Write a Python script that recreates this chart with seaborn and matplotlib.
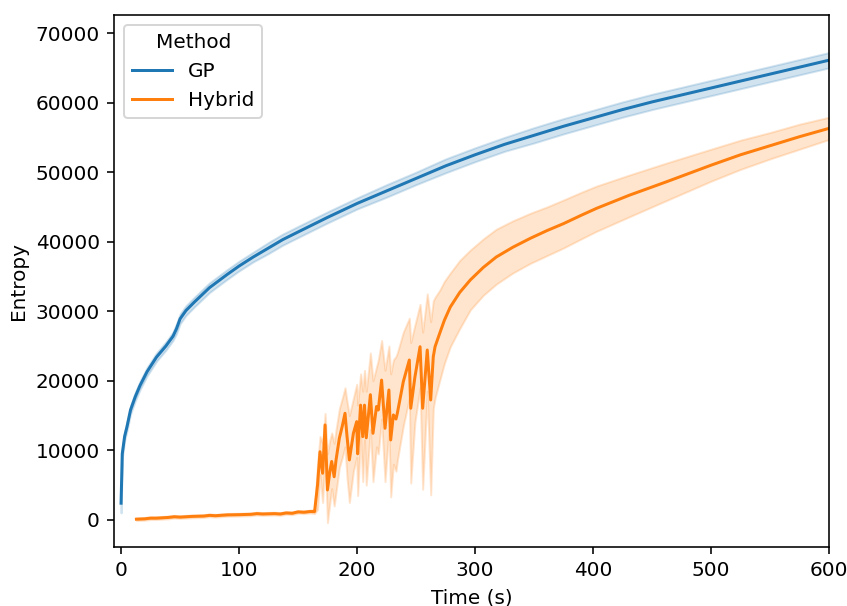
import numpy as np
import pandas as pd
import matplotlib
matplotlib.use("Agg")
import matplotlib.pyplot as plt
import seaborn as sns

# GP run: time (s), lower bound, central value, upper bound
gp_time = [0, 1, 3, 5, 8, 12, 16, 22, 30, 38, 44, 47, 50, 55, 62, 75, 90, 100,
           112, 125, 137, 150, 175, 200, 225, 250, 275, 300, 325, 350, 375, 400,
           425, 450, 475, 500, 525, 550, 575, 600]
gp_mid = [2400, 9500, 12000, 13400, 15800, 17700, 19300, 21300, 23400, 25000,
          26400, 27500, 28900, 30100, 31300, 33400, 35300, 36500, 37800, 39100,
          40300, 41400, 43500, 45500, 47300, 49100, 50900, 52500, 54000, 55300,
          56600, 57800, 59000, 60100, 61100, 62100, 63100, 64100, 65100, 66100]
gp_low = [1000, 8800, 11400, 12800, 15200, 17100, 18700, 20700, 22800, 24400,
          25800, 26800, 28200, 29400, 30600, 32700, 34600, 35800, 37100, 38300,
          39500, 40600, 42700, 44700, 46400, 48200, 49900, 51500, 53000, 54200,
          55500, 56700, 57900, 59000, 60000, 61000, 62000, 63000, 64000, 65000]
gp_high = [3000, 10200, 12600, 14000, 16400, 18300, 19900, 21900, 24000, 25600,
           27000, 28200, 29600, 30800, 32000, 34100, 36000, 37200, 38500, 39900,
           41100, 42200, 44300, 46300, 48200, 50000, 51900, 53500, 55000, 56400,
           57700, 58900, 60100, 61200, 62200, 63200, 64200, 65200, 66200, 67200]

# Hybrid run
hy_time = [13, 20, 25, 30, 40, 45, 50, 60, 70, 75, 80, 90, 100, 110, 115, 120,
           130, 135, 140, 145, 150, 155, 160, 164, 166.5, 168.6, 170.8, 172.9,
           174.9, 177, 178.5, 180.6, 182.2, 185, 187.5, 189.8, 191.5, 193.5,
           196.9, 199.7, 200.5, 203, 204.8, 206.3, 207.8, 211.3, 213.5, 216.5,
           218, 220.8, 223.7, 227, 228.5, 230.8, 233, 234.1, 239.2, 244.3, 245.5,
           249, 253.4, 255.6, 259.5, 262.4, 264.6, 266.1, 270, 274, 279, 287,
           296, 307, 318, 332, 347, 361, 375, 390, 403, 431, 462, 500, 525, 550,
           575, 600]
hy_mid = [100, 150, 250, 250, 350, 450, 400, 500, 550, 650, 600, 720, 750, 800,
          900, 850, 900, 850, 1000, 950, 1150, 1100, 1200, 1200, 5000, 9800,
          6700, 13650, 4300, 7000, 8400, 6200, 8620, 11740, 13500, 15330, 12000,
          8620, 12450, 14130, 9500, 16500, 11970, 16500, 11800, 18000, 12450,
          16300, 15800, 20100, 13170, 18680, 11490, 15090, 14500, 15300, 19870,
          22990, 16050, 20500, 24900, 16050, 24430, 17240, 23460, 24900, 26800,
          28700, 30600, 32700, 34500, 36300, 37800, 39200, 40500, 41600, 42600,
          43800, 44800, 46700, 48600, 51000, 52500, 53800, 55100, 56300]
hy_low = [-100, -50, 50, 50, 150, 250, 200, 300, 350, 450, 400, 520, 550, 600,
          700, 650, 700, 650, 800, 750, 950, 900, 1000, 900, 1500, 6500, 2500,
          9500, -400, 2500, 4500, 2000, 4000, 7500, 9000, 10500, 6000, 2500,
          7000, 9000, 3500, 12000, 5500, 11500, 5000, 13000, 5500, 10500, 9500,
          14500, 5500, 13000, 3300, 8000, 7000, 8500, 13500, 17500, 5300, 14000,
          19000, 4400, 18500, 3600, 16000, 17500, 20000, 22500, 24900, 27500,
          30200, 32300, 33900, 35500, 36900, 38000, 39100, 40400, 41500, 43600,
          45900, 48700, 50400, 51900, 53300, 54700]
hy_high = [300, 350, 450, 450, 550, 650, 600, 700, 750, 850, 800, 920, 950,
           1000, 1100, 1050, 1100, 1050, 1200, 1150, 1350, 1300, 1400, 1500,
           8000, 12000, 11000, 15300, 9500, 11500, 12500, 11000, 13000, 16000,
           17500, 19000, 17000, 15000, 17500, 19500, 16500, 21000, 18500, 21500,
           18500, 24000, 20000, 22000, 23000, 25800, 21500, 25000, 21000, 23000,
           23500, 24000, 27000, 29000, 25500, 28000, 31000, 27000, 32500, 28500,
           31500, 32000, 33000, 34300, 35500, 37300, 38800, 40400, 41800, 43000,
           44100, 45000, 46000, 47100, 48000, 49600, 51300, 53300, 54600, 55700,
           56900, 57900]


def long_frame(method, time, low, mid, high):
    rows = []
    for vals in (low, mid, high):
        rows.append(pd.DataFrame({"Time (s)": time, "Entropy": vals, "Method": method}))
    return pd.concat(rows, ignore_index=True)


df = pd.concat([
    long_frame("GP", gp_time, gp_low, gp_mid, gp_high),
    long_frame("Hybrid", hy_time, hy_low, hy_mid, hy_high),
], ignore_index=True)

fig = plt.figure(figsize=(847 / 144, 606 / 144), dpi=144)
ax = fig.add_axes([114 / 847, 1 - 547 / 606, (829 - 114) / 847, (547 - 15) / 606])

# median of (low, mid, high) is the line, min..max is the band
sns.lineplot(data=df, x="Time (s)", y="Entropy", hue="Method",
             estimator="median", errorbar=("pi", 100),
             palette=["#1f77b4", "#ff7f0e"], ax=ax)

ax.set_xlim(-6, 600)
ax.set_ylim(-3900, 72600)
ax.legend(title="Method", loc="upper left")

fig.savefig("out.png", dpi=144)
